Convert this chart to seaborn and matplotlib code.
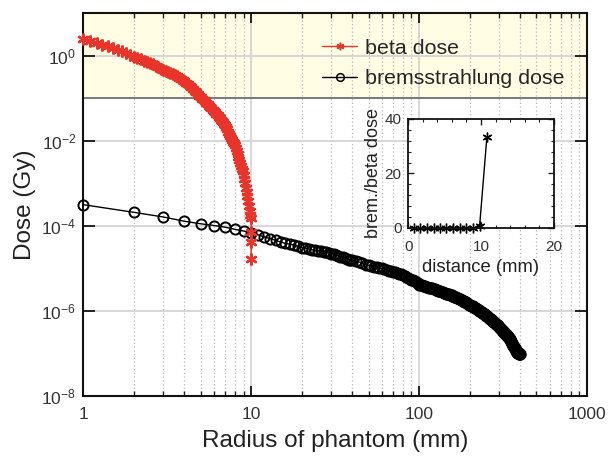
import numpy as np
import matplotlib
matplotlib.use("Agg")
import matplotlib.pyplot as plt
from matplotlib.ticker import FixedLocator, NullLocator, LogFormatterSciNotation, FixedFormatter, MultipleLocator
import seaborn as sns

sns.set_style("ticks")
plt.rcParams["font.family"] = ["Liberation Sans", "DejaVu Sans"]
plt.rcParams["mathtext.fontset"] = "custom"
plt.rcParams["mathtext.rm"] = "Liberation Sans"

# ---- beta dose: radius grid 1.0 .. 9.9 mm (0.1 mm step) plus the points at the 10 mm edge
beta_radius = list(np.round(np.arange(1.0, 9.95, 0.1), 1)) + [10.0, 10.0, 10.0, 10.0]
beta_dose = [
    2.51, 2.26, 2.04, 1.84, 1.66, 1.51, 1.40, 1.29, 1.19, 1.07,
    0.955, 0.891, 0.832, 0.776, 0.724, 0.676, 0.631, 0.589, 0.550, 0.501,
    0.468, 0.447, 0.417, 0.398, 0.372, 0.355, 0.331, 0.309, 0.288, 0.269,
    0.251, 0.234, 0.219, 0.200, 0.182, 0.166, 0.151, 0.138, 0.126, 0.115,
    0.105, 0.0977, 0.0912, 0.0851, 0.0794, 0.0741, 0.0676, 0.0631, 0.0589, 0.0537,
    0.0501, 0.0468, 0.0427, 0.0398, 0.0372, 0.0347, 0.0316, 0.0295, 0.0275, 0.0251,
    0.0234, 0.0209, 0.0186, 0.0166, 0.0148, 0.0132, 0.0117, 0.0105, 0.00955, 0.00871,
    0.00813, 0.00692, 0.00589, 0.00501, 0.00427, 0.00363, 0.00309, 0.00263, 0.00224, 0.00191,
    0.00162, 0.00129, 0.00100, 0.000794, 0.000631, 0.000501, 0.000380, 0.000288, 0.000224, 0.000178,
    0.000155, 7.2e-5, 4.3e-5, 1.66e-5,
]

# ---- bremsstrahlung dose (log10 of dose in Gy)
brem_radius = list(range(1, 41)) + list(range(42, 101, 2)) + list(range(102, 401, 2))
brem_log_dose = [
    -3.50, -3.68, -3.79, -3.89, -3.95, -3.99, -4.03, -4.08, -4.12, -4.16,
    -4.21, -4.26, -4.30, -4.34, -4.38, -4.41, -4.43, -4.45, -4.48, -4.51,
    -4.53, -4.54, -4.56, -4.57, -4.58, -4.60, -4.61, -4.62, -4.63, -4.65,
    -4.66, -4.68, -4.70, -4.72, -4.74, -4.76, -4.77, -4.79, -4.80, -4.81,
    # 42 .. 100
    -4.83, -4.85, -4.88, -4.91, -4.93, -4.95, -4.96, -4.97, -4.98, -5.00,
    -5.02, -5.03, -5.05, -5.06, -5.08, -5.09, -5.11, -5.12, -5.14, -5.16,
    -5.18, -5.20, -5.22, -5.24, -5.26, -5.28, -5.30, -5.32, -5.35, -5.38,
    # 102 .. 400
    -5.39, -5.40, -5.41, -5.42, -5.43, -5.44, -5.45, -5.45, -5.46, -5.47,
    -5.48, -5.49, -5.50, -5.51, -5.52, -5.53, -5.54, -5.55, -5.56, -5.57,
    -5.58, -5.59, -5.60, -5.61, -5.61, -5.62, -5.62, -5.63, -5.64, -5.65,
    -5.66, -5.67, -5.68, -5.69, -5.70, -5.71, -5.72, -5.73, -5.74, -5.75,
    -5.76, -5.77, -5.78, -5.79, -5.80, -5.81, -5.82, -5.84, -5.85, -5.86,
    -5.87, -5.88, -5.88, -5.89, -5.90, -5.91, -5.92, -5.93, -5.94, -5.95,
    -5.96, -5.97, -5.98, -5.99, -6.00, -6.01, -6.02, -6.03, -6.04, -6.05,
    -6.06, -6.07, -6.08, -6.10, -6.11, -6.12, -6.13, -6.14, -6.15, -6.16,
    -6.17, -6.18, -6.19, -6.20, -6.22, -6.23, -6.24, -6.25, -6.26, -6.27,
    -6.28, -6.29, -6.30, -6.31, -6.32, -6.33, -6.34, -6.36, -6.37, -6.38,
    -6.39, -6.40, -6.42, -6.43, -6.44, -6.45, -6.46, -6.48, -6.49, -6.50,
    -6.51, -6.52, -6.54, -6.55, -6.56, -6.57, -6.58, -6.60, -6.61, -6.62,
    -6.63, -6.64, -6.65, -6.66, -6.68, -6.71, -6.73, -6.76, -6.78, -6.80,
    -6.82, -6.83, -6.84, -6.85, -6.86, -6.88, -6.89, -6.91, -6.93, -6.95,
    -6.96, -6.98, -6.99, -7.00, -7.00, -7.00, -7.01, -7.01, -7.01, -7.01,
]
brem_dose = [10.0 ** v for v in brem_log_dose]

# ---- inset: brem./beta dose ratio
ratio_distance = [0.8, 1.6, 2.6, 3.5, 4.3, 5.2, 6.2, 7.1, 8.0, 8.9, 9.8, 10.8]
ratio_value = [0, 0, 0, 0, 0, 0, 0, 0, 0, 0, 0.6, 33.3]

x_ticks = [1, 10, 100, 1000]
x_tick_labels = ["1", "10", "100", "1000"]
y_ticks = [1e-8, 1e-6, 1e-4, 1e-2, 1e0]

RED = "#E8342A"

fig = plt.figure(figsize=(6.11, 4.63), dpi=100)
ax = fig.add_axes([0.1363, 0.1447, 0.8245, 0.8265])
ax.set_xscale("log")
ax.set_yscale("log")
ax.set_xlim(1, 1000)
ax.set_ylim(1e-8, 10)

# shaded high-dose band
ax.axhspan(0.1, 10, color="#FFFDE4", zorder=0, lw=0)
ax.axhline(0.1, color="#7a7a7a", lw=1.4, zorder=1)

sns.lineplot(x=brem_radius, y=brem_dose, ax=ax, color="black", lw=1.0,
             marker="o", markersize=7.3, markerfacecolor="none",
             markeredgecolor="black", markeredgewidth=1.4,
             estimator=None, sort=False, label="bremsstrahlung dose",
             clip_on=False, zorder=3)
sns.lineplot(x=beta_radius, y=beta_dose, ax=ax, color=RED, lw=1.0,
             marker=(6, 2, 0), markersize=8.5,
             markeredgecolor=RED, markeredgewidth=1.7,
             estimator=None, sort=False, label="beta dose",
             clip_on=False, zorder=4)

ax.xaxis.set_major_locator(FixedLocator(x_ticks))
ax.xaxis.set_major_formatter(FixedFormatter(x_tick_labels))
minor_x = [m * d for d in (1, 10, 100) for m in range(2, 10)]
ax.xaxis.set_minor_locator(FixedLocator(minor_x))
ax.yaxis.set_major_locator(FixedLocator(y_ticks))
ax.yaxis.set_major_formatter(LogFormatterSciNotation())
ax.yaxis.set_minor_locator(NullLocator())

ax.grid(which="major", axis="both", color="#d4d4d4", lw=1.3, ls="-", zorder=0)
ax.grid(which="minor", axis="x", color="#b8b8b8", lw=0.9, ls=(0, (1, 2)), zorder=0)
ax.set_axisbelow(True)

ax.tick_params(which="both", direction="in", top=True, right=True, colors="#222222",
               labelcolor="#333333", labelsize=12.5)
ax.tick_params(axis="x", which="major", length=7, width=1.4, pad=8)
ax.tick_params(axis="x", which="minor", length=3.5, width=1.0)
ax.tick_params(axis="y", which="major", length=8.5, width=1.4, pad=5)
for s in ax.spines.values():
    s.set_linewidth(1.5)
    s.set_color("#111111")

ax.set_xlabel("Radius of phantom (mm)", fontsize=17.5, color="#222222", labelpad=6)
ax.set_ylabel("Dose (Gy)", fontsize=17.5, color="#222222", labelpad=4)

handles, labels = ax.get_legend_handles_labels()
order = [labels.index("beta dose"), labels.index("bremsstrahlung dose")]
leg = ax.legend([handles[i] for i in order], [labels[i] for i in order],
                loc="upper left", bbox_to_anchor=(0.457, 0.956), frameon=False,
                fontsize=15.4, handlelength=1.65, handletextpad=0.35,
                labelspacing=0.54, borderaxespad=0)
for h in leg.legend_handles:
    h.set_markersize(5.5)
    h.set_markeredgewidth(1.1)

# inset: ratio of bremsstrahlung to beta dose
axi = fig.add_axes([0.6683, 0.5076, 0.2380, 0.2354])
axi.set_facecolor("white")
sns.lineplot(x=ratio_distance, y=ratio_value, ax=axi, color="black", lw=1.0,
             marker=(6, 2, 0), markersize=7, markeredgecolor="black",
             markeredgewidth=1.0, estimator=None, sort=False, clip_on=False)
axi.set_xlim(0, 20)
axi.set_ylim(0, 40)
axi.xaxis.set_major_locator(FixedLocator([0, 10, 20]))
axi.xaxis.set_minor_locator(MultipleLocator(2))
axi.yaxis.set_major_locator(FixedLocator([0, 20, 40]))
axi.yaxis.set_minor_locator(MultipleLocator(4))
axi.tick_params(which="both", direction="in", top=True, right=True,
                labelsize=11, labelcolor="#333333", colors="#222222")
axi.tick_params(which="major", length=4, width=1.0, pad=5)
axi.tick_params(axis="x", which="major", pad=9)
axi.tick_params(which="minor", length=2, width=0.8)
for s in axi.spines.values():
    s.set_linewidth(1.3)
    s.set_color("#111111")
axi.set_xlabel("distance (mm)", fontsize=13.3, color="#222222", labelpad=3)
axi.set_ylabel("brem./beta dose", fontsize=13, color="#222222", labelpad=2)

fig.savefig("out.png", dpi=100)
